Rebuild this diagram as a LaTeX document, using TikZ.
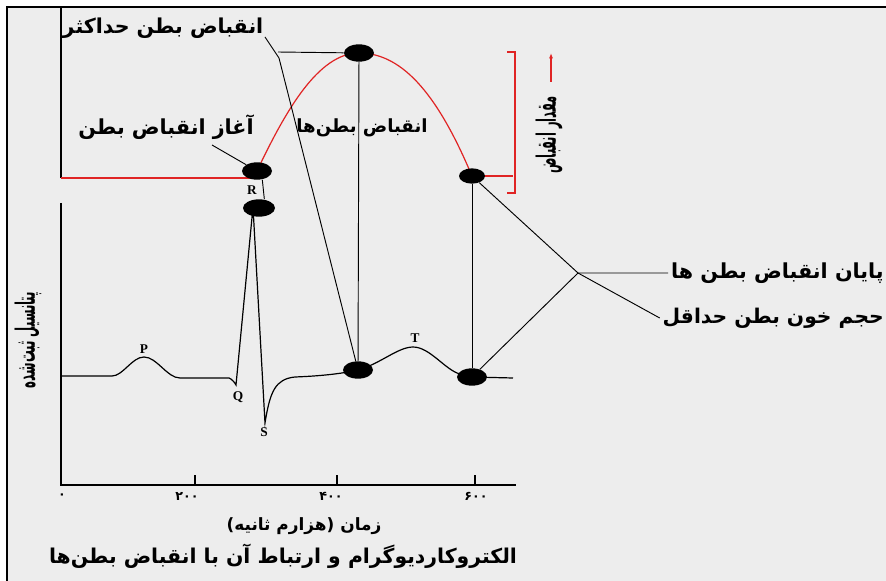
\documentclass[tikz,border=0pt]{standalone}
\usepackage{xcolor}
\usepackage{fontspec}
\usepackage{tikz}
\usetikzlibrary{arrows.meta,positioning,shapes.geometric,backgrounds}
\newfontfamily\fafont[Script=Arabic]{DejaVu Sans}
\newfontfamily\latfont{Liberation Serif}
\TeXXeTstate=1
\definecolor{panelgray}{HTML}{EDEDED}
\definecolor{curvered}{HTML}{E02424}

\begin{document}
\begin{tikzpicture}[
    x=0.75pt, y=-0.75pt,
    dot/.style={ellipse, fill=black, draw=none, inner sep=0pt},
    lbl/.style={font=\fafont\bfseries\fontsize{#1}{#1}\selectfont, inner sep=0pt},
    lbl/.default=15,
    ticklbl/.style={font=\fafont\bfseries\fontsize{9.5}{10}\selectfont, inner sep=0pt},
    wave/.style={font=\latfont\bfseries\fontsize{10}{10}\selectfont, inner sep=0pt},
    leader/.style={draw, line width=0.7pt},
    axis/.style={draw, line width=0.9pt},
    ecg/.style={draw, line width=0.9pt},
    redline/.style={draw=curvered, line width=0.9pt},
    redarrow/.style={-{Latex[length=4pt,width=3pt]}, draw=curvered, line width=0.9pt}
]
\useasboundingbox (0,0) rectangle (886,581);

% Dots, upper curve
\node[dot, minimum width=22.5pt, minimum height=13pt] (rdot) at (257,171) {};
\node[dot, minimum width=22.5pt, minimum height=13pt] (peakdot) at (359,53) {};
\node[dot, minimum width=19.5pt, minimum height=11.5pt] (enddot) at (472,176) {};

% Dots, ECG
\node[dot, minimum width=24pt, minimum height=13pt] (rdot2) at (259,208) {};
\node[dot, minimum width=22.5pt, minimum height=13pt] (tdot1) at (358,370) {};
\node[dot, minimum width=22.5pt, minimum height=13pt] (tdot2) at (472,377) {};

% Labels
\node[lbl=15.4] (maxlbl) at (163,28) {\beginR انقباض بطن حداکثر\endR};
\node[lbl=15.5] (startlbl) at (166,127) {\beginR آغاز انقباض بطن\endR};
\node[lbl=13.6] (contrlbl) at (362,128) {\beginR انقباض بطن‌ها\endR};
\node[lbl=20, rotate=90, xscale=0.43] (amountlbl) at (549,135) {\beginR مقدار انقباض\endR};
\node[lbl=15.5, anchor=east] (endlbl) at (884,273) {\beginR پایان انقباض بطن ها\endR};
\node[lbl=15.2, anchor=east] (minlbl) at (884,318) {\beginR حجم خون بطن حداقل\endR};
\node[lbl=20, rotate=90, xscale=0.44] (ylbl) at (28,340) {\beginR پتانسیل ثبت‌شده\endR};
\node[lbl=12.7] (xlbl) at (304,526) {\beginR زمان (هزارم ثانیه)\endR};
\node[lbl=15.3] (title) at (283,556) {\beginR الکتروکاردیوگرام و ارتباط آن با انقباض بطن‌ها\endR};

% Wave letters
\node[wave] (plbl) at (144,349) {P};
\node[wave] (qlbl) at (238,397) {Q};
\node[wave] (rlbl) at (252,190) {R};
\node[wave] (slbl) at (264,432) {S};
\node[wave] (tlbl) at (415,338) {T};

% Tick labels
\node[ticklbl] (t0) at (62,496) {۰};
\node[ticklbl] (t200) at (187,496) {۲۰۰};
\node[ticklbl] (t400) at (331,496) {۴۰۰};
\node[ticklbl] (t600) at (476,496) {۶۰۰};

% Free ends
\coordinate (uaxtop) at (61,7);
\coordinate (uaxbot) at (61,178);
\coordinate (laxtop) at (61,203);
\coordinate (origin) at (61,485);
\coordinate (laxend) at (516,485);
\coordinate (maxtip) at (265,37);
\coordinate (maxbend) at (279,58);
\coordinate (maxh) at (278,52);
\coordinate (starttip) at (212,145);
\coordinate (cross) at (578,273);
\coordinate (brtop) at (507,52);
\coordinate (brbot) at (507,193);
\coordinate (arrbot) at (551,82);
\coordinate (arrtop) at (551,53);

\begin{scope}[on background layer]
% Frame
\fill[panelgray] (7,7) rectangle (886,581);
\draw[line width=1.4pt] (7,581) -- (7,7) -- (886,7);

% Axes
\draw[axis] (uaxbot) -- (uaxtop);
\draw[axis] (laxtop) -- (origin) -- (laxend);
\foreach \tx in {195,337,475}
  \draw[axis] (\tx,485) -- (\tx,475);

% Contraction curve
\draw[redline] (uaxbot) -- (rdot.center |- uaxbot);
\draw[redline] (rdot.center) .. controls (285,112) and (318,53) .. (peakdot.center)
  .. controls (405,53) and (440,100) .. (enddot.center);
\draw[redline] (enddot.center) -- (enddot.center -| 513,0);
\draw[redline] (brtop) -- ++(8,0) -- ++(0,141) -- (brbot);
\draw[redarrow] (arrbot) -- (arrtop);

% ECG
\draw[ecg] (61,376) -- (112,376)
  .. controls (123,376) and (132,357) .. (144,357)
  .. controls (157,357) and (167,378) .. (180,378)
  -- (229,378) .. controls (232,379) and (235,383) .. (236,385)
  -- (253,207) -- (265,423)
  .. controls (270,392) and (275,379) .. (295,377)
  .. controls (320,376) and (340,374) .. (tdot1.center)
  .. controls (380,364) and (398,347) .. (413,347)
  .. controls (430,347) and (445,370) .. (460,374)
  -- (tdot2.center) -- (513,378);

% Connectors
\draw[leader] ([xshift=4pt]rdot.south) -- ([xshift=4pt]rdot2.north);
\draw[leader] (peakdot) -- (tdot1);
\draw[leader] (enddot) -- (tdot2);
\draw[leader] (maxtip) -- (maxbend) -- (tdot1);
\draw[leader] (maxh) -- (peakdot);
\draw[leader] (starttip) -- (rdot);
\draw[leader] (enddot) -- (cross) -- ([xshift=-2pt]minlbl.west);
\draw[leader] (tdot2) -- (cross) -- ([xshift=-2pt]endlbl.west);
\end{scope}
\end{tikzpicture}
\end{document}
